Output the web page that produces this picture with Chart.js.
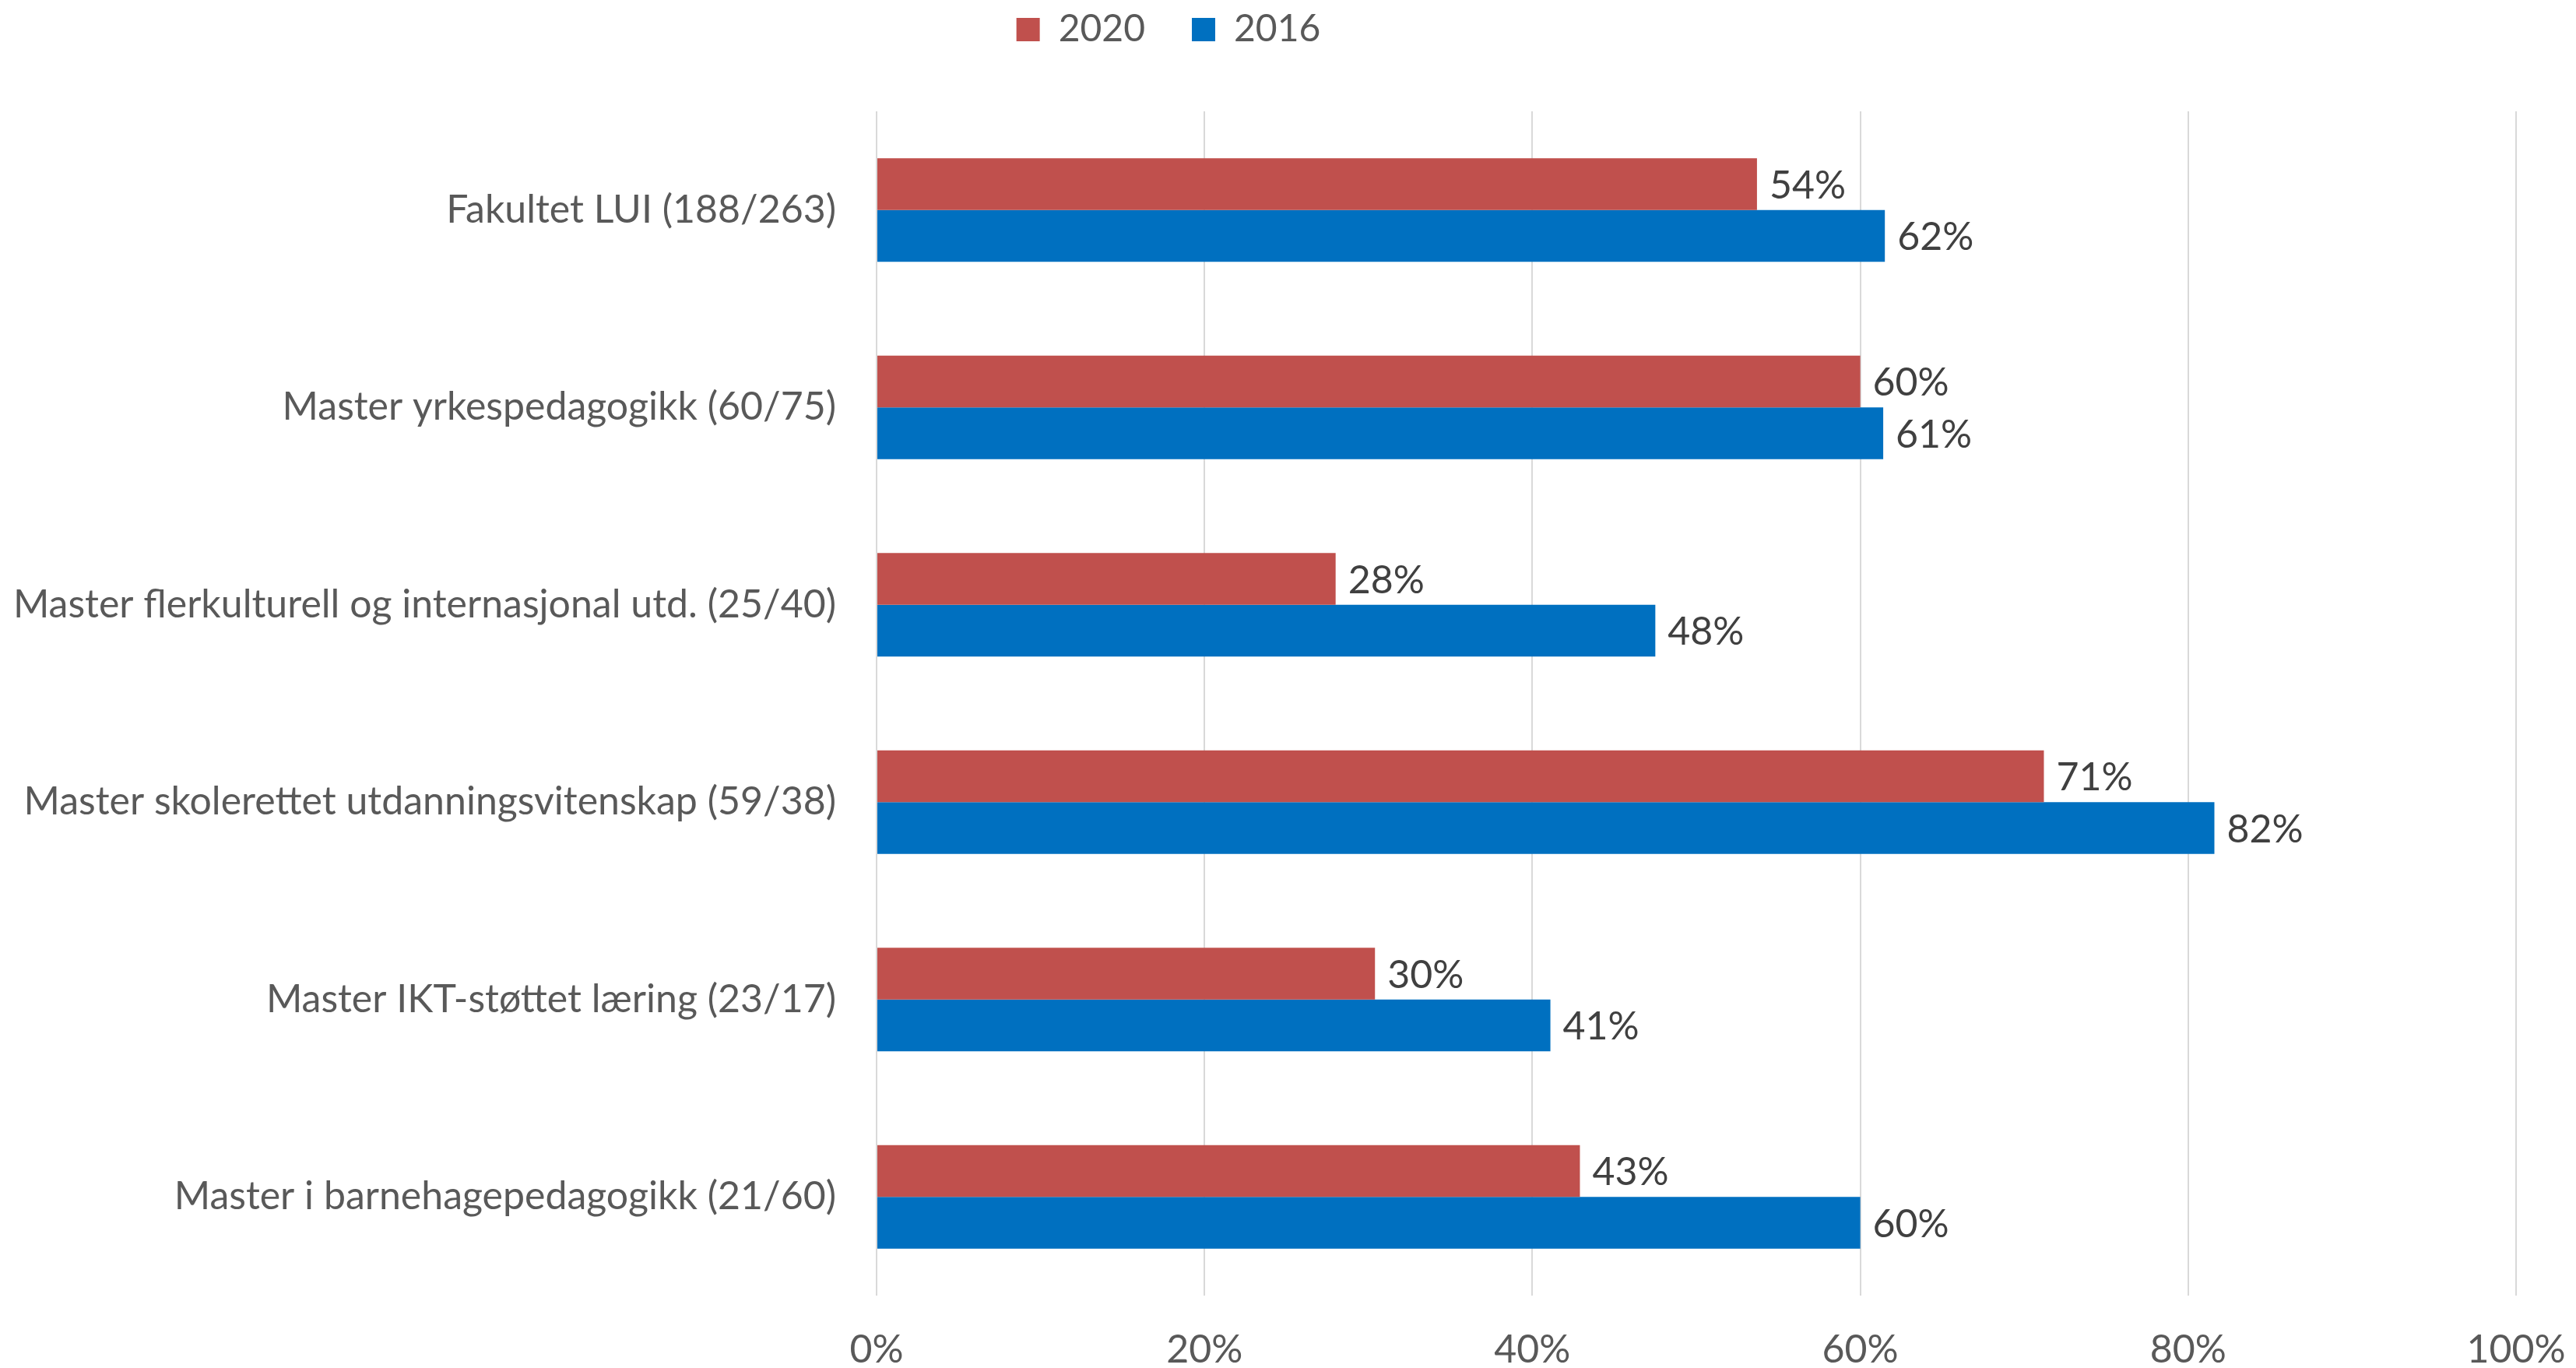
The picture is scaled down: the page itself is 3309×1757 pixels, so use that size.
<!DOCTYPE html>
<html>
<head>
<meta charset="utf-8">
<script src="https://cdn.jsdelivr.net/npm/chart.js@4/dist/chart.umd.min.js"></script>
<style>
html,body{margin:0;padding:0;background:#fff;}
#wrap{width:3309px;height:1757px;position:relative;}
</style>
</head>
<body>
<div id="wrap"><canvas id="c" width="3309" height="1757"></canvas></div>
<script>
const categories = [
  "Fakultet LUI (188/263)",
  "Master yrkespedagogikk (60/75)",
  "Master flerkulturell og internasjonal utd. (25/40)",
  "Master skolerettet utdanningsvitenskap (59/38)",
  "Master IKT-støttet læring (23/17)",
  "Master i barnehagepedagogikk (21/60)"
];
const series2020 = [53.7, 60.0, 28.0, 71.2, 30.4, 42.9];
const series2016 = [61.5, 61.4, 47.5, 81.6, 41.1, 60.0];
const seriesNames = ["2020", "2016"];
const xTicks = [0, 20, 40, 60, 80, 100];

const FONT = "Lato, 'Open Sans', sans-serif";

const dataLabelPlugin = {
  id: 'dataLabels',
  afterDatasetsDraw(chart) {
    const ctx = chart.ctx;
    ctx.save();
    ctx.font = "50px " + FONT;
    ctx.fillStyle = "#404040";
    ctx.textAlign = "left";
    ctx.textBaseline = "middle";
    chart.data.datasets.forEach((ds, di) => {
      const meta = chart.getDatasetMeta(di);
      meta.data.forEach((bar, i) => {
        const v = ds.data[i];
        ctx.fillText(Math.round(v) + "%", bar.x + 16, bar.y + 2);
      });
    });
    ctx.restore();
  }
};

const legendTweak = {
  id: 'legendTweak',
  afterInit(chart) {
    const lg = chart.legend;
    if (!lg) return;
    const orig = lg.fit.bind(lg);
    lg.fit = function () { orig(); this.height += 71; };
  },
  afterLayout(chart) {
    const lg = chart.legend;
    if (lg) { lg.right -= 230; }
  }
};

new Chart(document.getElementById('c'), {
  type: 'bar',
  data: {
    labels: categories,
    datasets: [
      { label: seriesNames[0], data: series2020, backgroundColor: '#C0504D', borderWidth: 0 },
      { label: seriesNames[1], data: series2016, backgroundColor: '#0070C0', borderWidth: 0 }
    ]
  },
  options: {
    indexAxis: 'y',
    responsive: false,
    animation: false,
    devicePixelRatio: 1,
    layout: { padding: { left: 0, right: 77, top: -46, bottom: 0 } },
    datasets: { bar: { barPercentage: 1.0, categoryPercentage: 0.525 } },
    plugins: {
      legend: {
        position: 'top',
        align: 'center',
        labels: {
          boxWidth: 30, boxHeight: 30,
          padding: 60,
          color: '#595959',
          font: { size: 48, family: FONT }
        }
      },
      tooltip: { enabled: false }
    },
    scales: {
      x: {
        min: 0, max: 100,
        afterBuildTicks(axis) { axis.ticks = xTicks.map(v => ({ value: v })); },
        afterFit(axis) { axis.height = 93; axis.paddingLeft = 0; axis.paddingRight = 0; },
        grid: { color: '#d9d9d9', lineWidth: 2, drawTicks: false },
        border: { display: false },
        ticks: {
          padding: 40,
          color: '#595959',
          font: { size: 50, family: FONT },
          callback: v => v + '%'
        }
      },
      y: {
        afterFit(axis) { axis.width = 1126; axis.paddingTop = 0; axis.paddingBottom = 0; },
        grid: { display: false, drawTicks: false },
        border: { display: false },
        ticks: {
          padding: 52,
          color: '#595959',
          font: { size: 50, family: FONT }
        }
      }
    }
  },
  plugins: [dataLabelPlugin, legendTweak]
});
</script>
</body>
</html>
